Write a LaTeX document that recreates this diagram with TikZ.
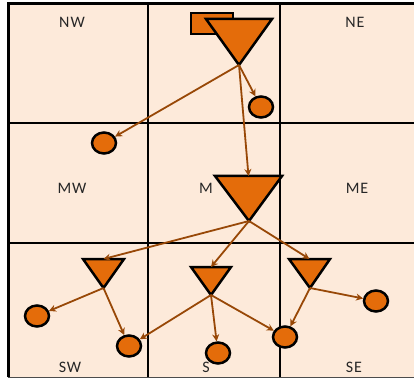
\documentclass[tikz,border=0pt]{standalone}
\usepackage{fontspec}
\setmainfont{Carlito}[LetterSpace=6]
\usetikzlibrary{shapes.geometric,arrows.meta}
\definecolor{peach}{HTML}{FDEADA}
\definecolor{pumpkin}{HTML}{E46C0A}
\definecolor{rust}{HTML}{984807}
\tikzset{
  dot/.style={ellipse,draw=black,fill=pumpkin,line width=2.5pt,minimum width=24pt,minimum height=21pt,inner sep=0pt},
  tri/.style={draw=black,fill=pumpkin,line width=2.5pt},
  flow/.style={rust,line width=1.8pt,arrows=-{Stealth[length=7pt,width=7pt]}},
  cell/.style={font=\fontsize{16}{18}\selectfont,text=black!85,inner sep=0pt}
}
\begin{document}
\begin{tikzpicture}[x=1pt,y=-1pt]
\useasboundingbox (0,0) rectangle (414,379);
% grid
\fill[peach] (8,4) rectangle (414,377);
\draw[black!70,line width=1pt] (8,377) -- (414,377);
\foreach \x in {148,280}
  \draw[line width=1.3pt] (\x,4) -- (\x,377);
\foreach \y in {123,243}
  \draw[line width=1.3pt] (8,\y) -- (414,\y);
\draw[line width=3pt] (8,377) -- (8,4) -- (414,4);
% cell names
\node[cell] (nw) at (72,22) {NW};
\node[cell] (ne) at (355,22) {NE};
\node[cell] (mw) at (72,188) {MW};
\node[cell] (m) at (206,188) {M};
\node[cell] (me) at (357,188) {ME};
\node[cell] (sw) at (70,367) {SW};
\node[cell] (s) at (206,367) {S};
\node[cell] (se) at (354,367) {SE};
% top
\node[draw,fill=pumpkin,line width=2.5pt,minimum width=42pt,minimum height=21pt,inner sep=0pt] (gate) at (212,23.5) {};
\filldraw[tri] (206,19) -- (272,19) -- (239,65) -- cycle;
\coordinate (topTip) at (239,65);
% middle
\filldraw[tri] (215,176) -- (282,176) -- (249,221) -- cycle;
\coordinate (mTop) at (248.5,176);
\coordinate (mTip) at (249,221);
% bottom row
\filldraw[tri] (83,259) -- (124,259) -- (103.5,288) -- cycle;
\coordinate (swTop) at (103.5,259);
\coordinate (swTip) at (103.5,288);
\filldraw[tri] (191,267) -- (231,267) -- (211,295) -- cycle;
\coordinate (sTop) at (211,267);
\coordinate (sTip) at (211,295);
\filldraw[tri] (289,259) -- (330,259) -- (310,288) -- cycle;
\coordinate (seTop) at (309.5,259);
\coordinate (seTip) at (310,288);
% leaves
\node[dot] (oN) at (261,107) {};
\node[dot] (oMW) at (104,143) {};
\node[dot] (oSW1) at (37,316) {};
\node[dot] (oSW2) at (129,346) {};
\node[dot] (oS) at (218,353) {};
\node[dot] (oSE1) at (285,337) {};
\node[dot] (oSE2) at (376,301) {};
% arrows
\draw[flow] (topTip) -- (oN);
\draw[flow] (topTip) -- (oMW);
\draw[flow] (topTip) -- (mTop);
\foreach \t in {swTop,sTop,seTop}
  \draw[flow] (mTip) -- (\t);
\draw[flow] (swTip) -- (oSW1);
\draw[flow] (swTip) -- (oSW2);
\foreach \t in {oSW2,oS,oSE1}
  \draw[flow] (sTip) -- (\t);
\draw[flow] (seTip) -- (oSE1);
\draw[flow] (seTip) -- (oSE2);
\end{tikzpicture}
\end{document}
